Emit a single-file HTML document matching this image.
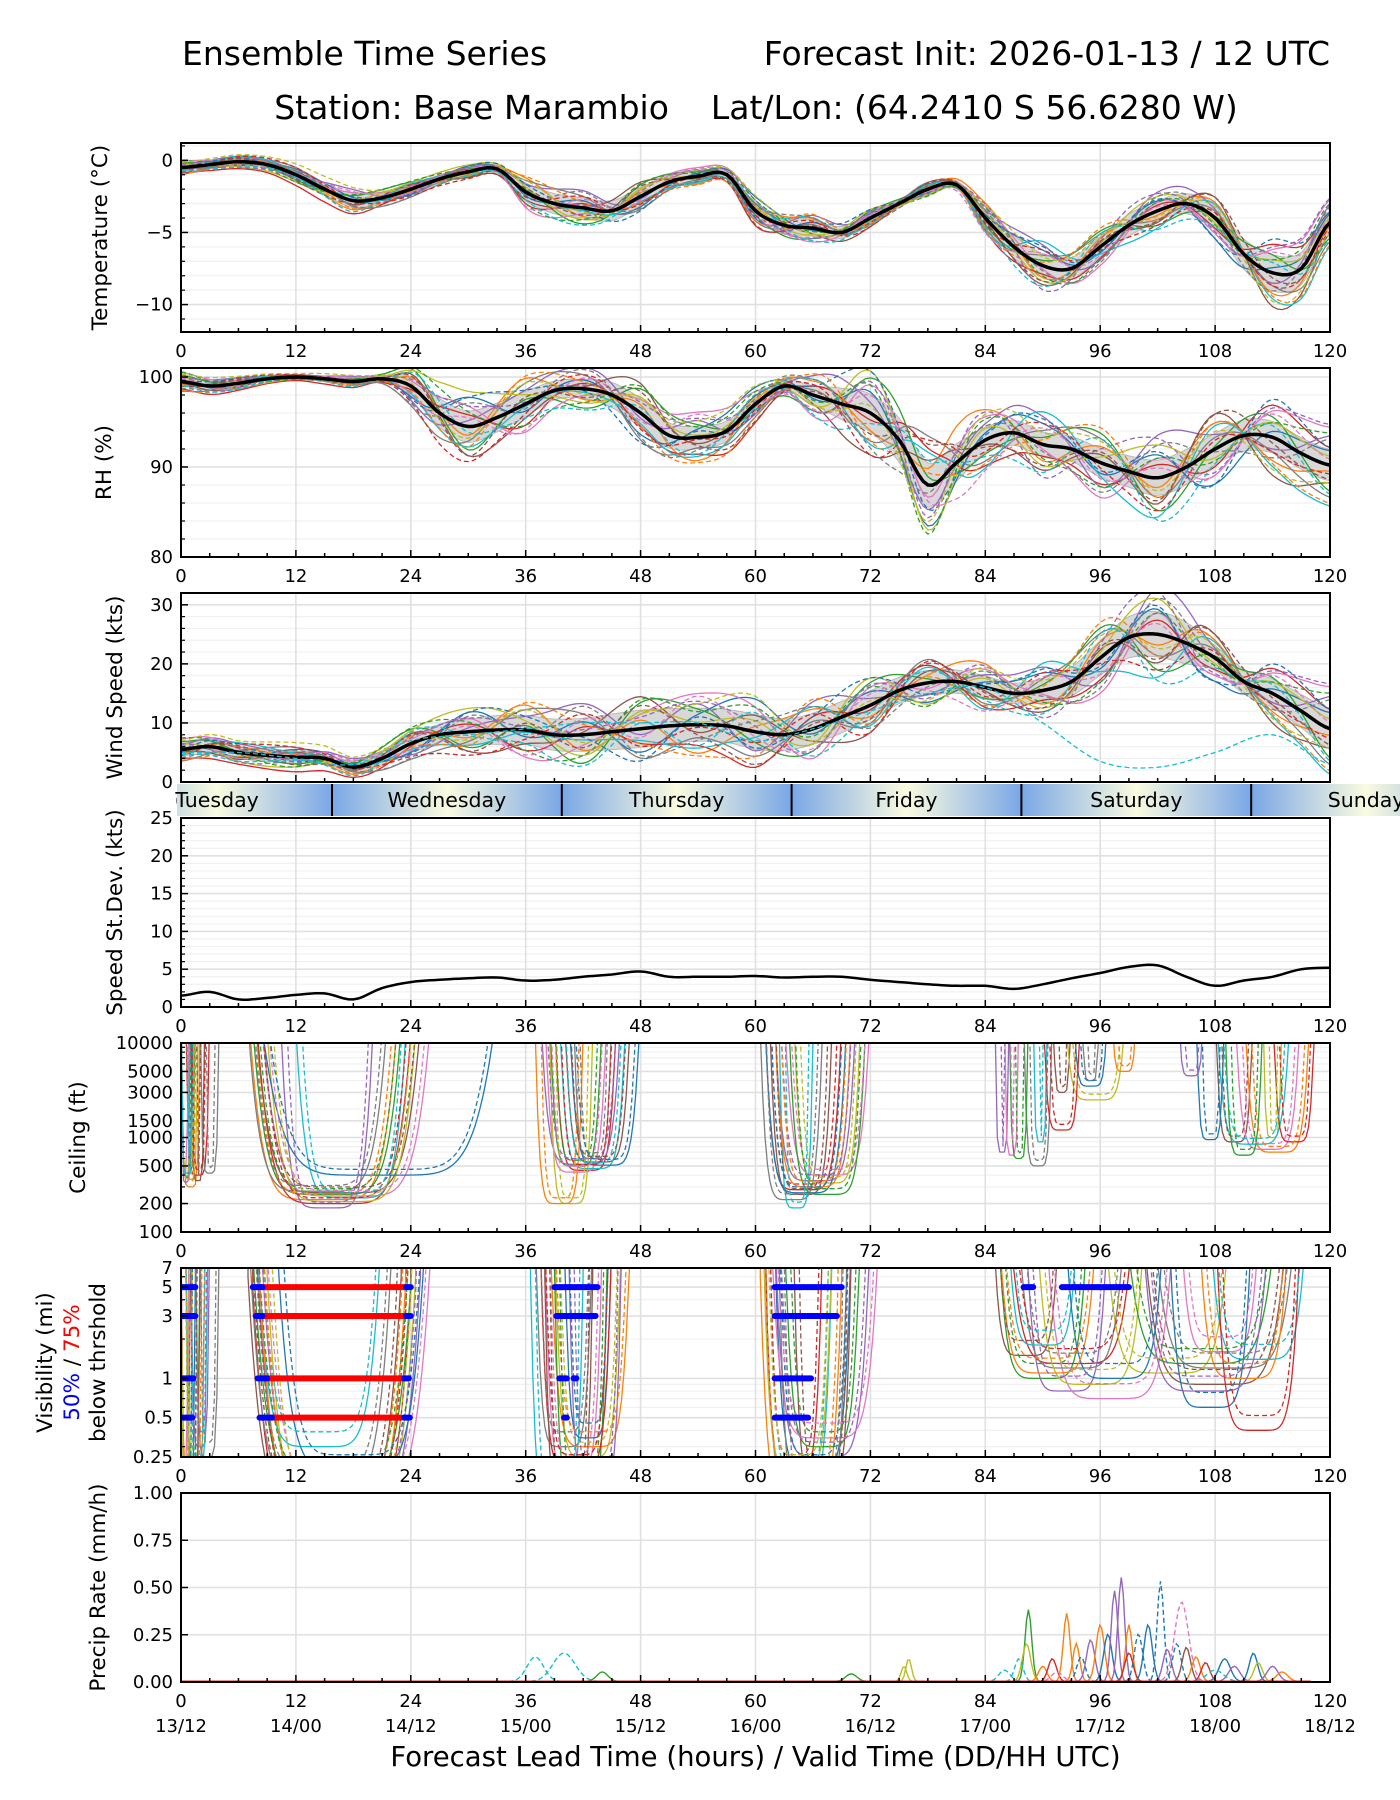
<!DOCTYPE html>
<html><head><meta charset="utf-8">
<style>
html,body{margin:0;padding:0;background:#fff;}
svg{display:block;font-family:"DejaVu Sans","Liberation Sans",sans-serif;}
</style></head>
<body>
<svg id="chart" width="1400" height="1800" viewBox="0 0 1400 1800" xmlns="http://www.w3.org/2000/svg">
<text x="182" y="65" font-size="33">Ensemble Time Series</text>
<text x="1330" y="65" font-size="33" text-anchor="end">Forecast Init: 2026-01-13 / 12 UTC</text>
<text x="756" y="119" font-size="33" text-anchor="middle">Station: Base Marambio &#160;&#160; Lat/Lon: (64.2410 S 56.6280 W)</text>
</svg>
<script>
// ---------- data ----------
const hours3 = [0,3,6,9,12,15,18,21,24,27,30,33,36,39,42,45,48,51,54,57,60,63,66,69,72,75,78,81,84,87,90,93,96,99,102,105,108,111,114,117,120];
const tempMean = [-0.5,-0.3,-0.1,-0.3,-1.0,-2.0,-2.8,-2.6,-2.0,-1.3,-0.8,-0.6,-2.2,-3.0,-3.3,-3.5,-2.5,-1.5,-1.1,-1.0,-3.5,-4.5,-4.7,-5.0,-4.0,-3.0,-2.0,-1.7,-4.0,-6.0,-7.3,-7.5,-6.0,-4.5,-3.5,-3.0,-4.0,-6.5,-7.8,-7.5,-4.3];
const tempSpread = [0.4,0.4,0.4,0.4,0.5,0.6,0.7,0.6,0.5,0.4,0.4,0.4,0.9,1.0,1.0,1.0,0.9,0.6,0.5,0.4,0.8,0.9,0.8,0.6,0.5,0.4,0.4,0.4,0.8,1.1,1.2,1.1,1.0,1.1,1.0,1.0,1.2,1.5,1.8,1.6,1.2];
const rhMean = [99.5,99,99.3,99.8,100,99.8,99.5,99.8,99,96,94.5,95.5,97,98.5,98.7,98,96,93.5,93.3,94,97,99,98,97,96,93,88,90.5,93,93.8,92.5,92,90.5,89.5,88.8,90,92,93.5,93.3,91.5,90.2];
const rhSpread = [0.7,0.7,0.5,0.3,0.2,0.3,0.4,0.4,1.5,2.3,2.5,2.3,2.0,1.5,1.5,2.0,2.3,2.0,1.8,1.6,1.2,1.0,1.5,2.5,3.0,3.5,3.5,3.0,2.0,2.0,2.0,2.0,2.3,2.5,2.8,2.8,2.5,2.5,2.5,2.5,2.5];
const windMean = [5.5,6,5,4.5,4.2,4,2.5,4,6.5,8,8.5,8.8,8.8,8,8,8.5,9,9.5,9.7,9.5,8.5,8,9,11,13,15.5,16.8,17,16,15,15.5,17,21,24.5,25,23.5,21,17,15,12,9];
const windSpread = [1.5,1.8,1.5,1.5,1.5,1.3,1.2,1.8,2.2,2.5,3.0,3.5,3.5,3.8,4,4.3,4.5,4.2,4,4,4.2,3.8,3.8,3.8,3.5,3.2,3,2.8,2.8,2.5,3,3.5,4.2,5,5.5,5,3,3,3.5,4,5];
const stdMean = [1.5,2,1,1.2,1.6,1.8,1,2.5,3.3,3.6,3.8,3.9,3.5,3.6,4.0,4.3,4.7,4.0,4.0,4.0,4.1,3.9,4.0,4.0,3.6,3.3,3.0,2.8,2.8,2.4,3.0,3.8,4.5,5.3,5.5,4.0,2.8,3.5,4.0,5.0,5.2];
const hours6 = [0,6,12,18,24,30,36,42,48,54,60,66,72,78,84,90,96,102,108,114,120];
const memberOffsets = [
 [0.2,-0.5,0.8,0.3,-0.6,1.0,-0.3,0.5,-0.8,0.4,1.2,-0.2,0.6,-1.0,0.3,0.9,-0.4,0.7,-1.2,0.2,0.5],
 [-0.4,0.6,-0.2,-0.9,0.5,-0.3,1.1,-0.6,0.3,-1.1,0.2,0.8,-0.5,0.4,1.3,-0.7,0.6,-0.3,0.9,-0.8,-0.2],
 [0.8,0.1,-0.7,0.5,1.0,-0.8,0.2,-1.1,0.9,0.6,-0.4,-0.9,1.0,0.2,-0.6,0.3,1.1,-1.0,0.1,0.7,-0.9],
 [-0.9,-1.2,-1.5,-1.3,-0.2,0.4,-0.9,0.3,-0.5,-0.8,-1.3,0.5,-0.2,0.9,-1.1,-0.5,-0.8,0.4,-0.6,1.1,0.6],
 [0.5,0.9,0.3,1.1,-0.8,0.2,0.6,1.2,-0.2,0.8,-0.7,1.1,0.3,-0.6,0.7,1.2,-0.9,1.3,0.5,-0.4,1.0],
 [-0.2,-0.7,0.5,-0.4,0.7,-1.0,-0.6,0.1,1.1,-0.3,0.6,-0.5,-1.2,0.6,-0.2,-1.1,0.3,-0.8,1.2,-1.3,-0.6],
 [1.1,0.4,-0.3,0.8,0.3,0.7,-1.2,-0.4,0.5,1.2,0.9,-1.2,0.8,-0.3,1.0,-0.2,-1.3,0.6,-0.9,0.9,1.3],
 [-1.2,0.2,1.0,-0.6,-1.1,-0.5,0.9,0.8,-1.0,-0.5,-0.9,0.3,-0.8,1.2,-0.9,0.6,0.9,-0.6,0.4,-0.5,-1.1],
 [0.6,-0.9,-1.0,0.1,0.9,1.2,0.4,-0.8,0.6,0.1,0.4,-0.6,1.2,-1.1,0.5,-0.9,0.2,1.0,-0.3,0.5,0.3],
 [-0.6,1.0,0.4,-0.1,-0.4,-0.7,-0.1,-0.2,-0.4,-0.9,-0.2,0.9,-0.9,0.8,-1.2,1.4,-0.5,-1.2,0.8,-1.0,-1.4]
];
const windOutlier = [5,5,4,3,7,8,9,10,10,10,7,9,12,15,16,10,3.5,2.5,5,8,3];
const ceilEpisodes = [
 [[0,1.2,380],[7.2,22.5,220],[38.5,44,500],[61,69,280],[85,86.5,700],[108,112,900]],
 [[0,2,300],[7.5,23,250],[39,45.5,450],[62,70.5,350],[91,93,3000],[110,117,750]],
 [[0,1.5,420],[8,24,200],[37.5,46,520],[61.5,68,250],[86,87.5,650],[94,96,4000]],
 [[0.5,3,400],[10.5,20,180],[40,47,550],[63,72,400],[88,91,500],[113,115,1000]],
 [[0,1,330],[7.8,25,260],[38,44.5,430],[60.5,67,220],[92,99,2500],[108,116,850]],
 [[1,2.5,350],[8.5,26,240],[41,45,600],[64,71,330],[89,90.5,900],[106,109,950]],
 [[0,0.8,450],[7,21.5,270],[38.5,43,200],[62.5,66,180],[93,97,3500],[111,118,700]],
 [[2,4,420],[9,24.5,210],[39.5,46.5,470],[61,69.5,260],[97,100,5000],[109,113,650]],
 [[0,1.8,360],[12,23.5,230],[40.5,48,510],[62,70,300],[86.5,88.5,600],[114,118.5,900]],
 [[0,1.3,390],[8.2,33,400],[37,42,200],[63.5,71.5,250],[90,94,1200],[104,107,4500]]
];
const visEpisodes = [
 [[0,1.5,0.1],[7.5,24,0.08],[38,44,0.2],[61,68,0.15],[85,95,1.0],[100,116,0.9]],
 [[0,2.5,0.12],[8,25,0.1],[37,43,0.3],[62,70,0.2],[86,100,1.3],[104,113,1.6]],
 [[0.5,2,0.2],[7,23,0.1],[39,46,0.25],[60.5,69,0.1],[88,97,0.8],[101,117,1.2]],
 [[0,1,0.15],[8.5,26,0.12],[36.5,42,0.1],[63,71,0.3],[84.5,92,1.5],[96,110,1.1]],
 [[1,3,0.3],[7.2,22,0.15],[40,45,0.35],[61,67,0.2],[90,104,0.7],[107,118,1.4]],
 [[0,2,0.1],[9,24.5,0.1],[38.5,47,0.3],[62,72,0.25],[87,99,1.2],[103,112,0.6]],
 [[0,0.8,0.2],[7.8,21,0.3],[39,44.5,0.12],[64,70,0.15],[89,101,0.9],[106,116,1.0]],
 [[1.5,4,0.25],[10,25.5,0.2],[37.5,45,0.2],[61.5,73,0.35],[86,94,1.8],[98,115,1.3]],
 [[0,1.2,0.1],[8.2,23.5,0.1],[40.5,46,0.15],[62.5,69.5,0.1],[92,103,1.0],[108,117,0.4]],
 [[0.5,2.8,0.18],[7.5,24.2,0.15],[38,43,0.1],[60.8,68,0.2],[85,96,1.1],[100,114,0.8]]
];
const visRedSegs = [[5,8.5,23.5],[3,8.5,23.5],[1,9,23.3],[0.5,9.5,23]];
const visBlueSegs = [[5,0,1.5],[3,0,1.5],[1,0,1.3],[0.5,0,1.2],[5,7.5,8.5],[3,7.8,8.5],[1,8,9],[0.5,8.2,9.5],[5,23.5,24],[3,23.5,24],[1,23.3,23.8],[0.5,23.3,23.9],[5,39,43.5],[3,39.2,43.3],[1,39.5,40.3],[1,41,41.3],[0.5,40,40.3],[5,62,69],[3,62,68.5],[1,62,65.8],[0.5,62,65.5],[5,88,89],[5,92,99]];
const precipPeaks = [[88.5,0.38,1.2,2],[88.3,0.2,1.5,8],[87.5,0.12,1.5,9],[90,0.08,1.5,1],[91,0.12,1.5,3],[92.5,0.36,1.2,1],[93.5,0.2,1.2,1],[94,0.13,1.5,0],[95,0.22,1.5,4],[96,0.3,1.5,1],[96.8,0.25,1.5,0],[97.5,0.48,1.2,4],[98.2,0.55,1.2,4],[99,0.3,1.2,1],[99,0.15,1.5,3],[100,0.25,1.5,0],[101,0.3,1.5,0],[102.3,0.53,1.2,0],[103,0.17,1.5,4],[104.5,0.42,2.5,6],[105,0.18,1.5,5],[104,0.2,1.5,0],[106,0.13,1.5,1],[107,0.1,1.5,3],[109,0.12,2,0],[110,0.08,2,4],[112,0.15,1.5,0],[112.5,0.1,1.5,8],[114,0.08,2,4],[115,0.05,2,1],[76,0.12,1,8],[75.5,0.08,1,8],[40,0.15,4,9],[37,0.13,3,9],[44,0.05,2,2],[70,0.04,2,2],[86,0.06,2,9],[91.5,0.05,2,6],[108,0.06,3,9]];
const dayNames = ["Tuesday","Wednesday","Thursday","Friday","Saturday","Sunday","Monday"];
const dayBoundaries = [-8.23,15.77,39.77,63.77,87.77,111.77,135.77];

// ---------- helpers ----------
const NS="http://www.w3.org/2000/svg";
const svg=document.getElementById('chart');
const L=181,R=1330,PH=189;
const tops=[143,368,593,818,1043,1268,1493];
const tab=['#1f77b4','#ff7f0e','#2ca02c','#d62728','#9467bd','#8c564b','#e377c2','#7f7f7f','#bcbd22','#17becf'];
const TICK_FS=18, LABEL_FS=21.5;
function mk(tag,attrs,parent){const e=document.createElementNS(NS,tag);for(const k in attrs)e.setAttribute(k,attrs[k]);(parent||svg).appendChild(e);return e;}
function xs(h){return L+(h/120)*(R-L);}
function interp(xsArr,ys,t){
  if(t<=xsArr[0])return ys[0];const n=xsArr.length;if(t>=xsArr[n-1])return ys[n-1];
  let i=0;while(xsArr[i+1]<t)i++;
  const p0=ys[Math.max(i-1,0)],p1=ys[i],p2=ys[i+1],p3=ys[Math.min(i+2,n-1)];
  const u=(t-xsArr[i])/(xsArr[i+1]-xsArr[i]);
  return 0.5*((2*p1)+(-p0+p2)*u+(2*p0-5*p1+4*p2-p3)*u*u+(-p0+3*p1-3*p2+p3)*u*u*u);
}
function linY(top,lo,hi){return v=>top+PH-(v-lo)/(hi-lo)*PH;}
function logY(top,lo,hi){return v=>top+PH-(Math.log(v)-Math.log(lo))/(Math.log(hi)-Math.log(lo))*PH;}
function pathFrom(pts){return pts.map((p,i)=>(i?'L':'M')+p[0].toFixed(1)+' '+p[1].toFixed(1)).join('');}

function makePanel(idx,name,yfn,yTicks,yLabels,minorVals){
  const top=tops[idx];
  const g=mk('g',{});
  
  
  const cp=mk('clipPath',{id:'clip'+idx},g);
  mk('rect',{x:L,y:top,width:R-L,height:PH},cp);
  minorVals.forEach(v=>{const y=yfn(v);const l=mk('line',{x1:L,x2:R,y1:y,y2:y,stroke:'#f0f0f0','stroke-width':1.2},g);
    
    });
  yTicks.forEach(v=>{const y=yfn(v);const l=mk('line',{x1:L,x2:R,y1:y,y2:y,stroke:'#e0e0e0','stroke-width':1.6},g);
    
    });
  for(let h=12;h<120;h+=12){const l=mk('line',{x1:xs(h),x2:xs(h),y1:top,y2:top+PH,stroke:'#e0e0e0','stroke-width':1.6},g);
    
    }
  const plot=mk('g',{'clip-path':'url(#clip'+idx+')'},g);
  
  
  const fr=mk('rect',{x:L,y:top,width:R-L,height:PH,fill:'none',stroke:'#000','stroke-width':2},g);
  
  
  for(let h=0;h<=120;h+=3){const len=(h%12===0)?7:4;
    const t=mk('line',{x1:xs(h),x2:xs(h),y1:top+PH,y2:top+PH-len,stroke:'#000','stroke-width':1.5},g);
    
    }
  for(let h=0;h<=120;h+=12){
    const t=mk('text',{x:xs(h),y:top+PH+25,'font-size':TICK_FS,'text-anchor':'middle'},g);t.textContent=String(h);
    
    
  }
  yTicks.forEach((v,i)=>{const y=yfn(v);
    const t=mk('line',{x1:L,x2:L+7,y1:y,y2:y,stroke:'#000','stroke-width':1.5},g);
    
    
    const tx=mk('text',{x:L-8,y:y+6,'font-size':TICK_FS,'text-anchor':'end'},g);tx.textContent=yLabels[i];
    
    });
  minorVals.forEach(v=>{const y=yfn(v);const t=mk('line',{x1:L,x2:L+4,y1:y,y2:y,stroke:'#000','stroke-width':1.2},g);
    
    });
  return plot;
}
function yLabel(x,top,text,name){
  const t=mk('text',{x:x,y:top+PH/2,'font-size':LABEL_FS,'text-anchor':'middle',transform:'rotate(-90 '+x+' '+(top+PH/2)+')'});
  t.textContent=text;
  
  
}
function ensemblePanel(plot,yfn,mean,spread,name,scaleMul){
  const up=[],dn=[];
  for(let t=0;t<=120;t+=0.5){const m=interp(hours3,mean,t),s=interp(hours3,spread,t)*0.7;up.push([xs(t),yfn(m+s)]);dn.push([xs(t),yfn(m-s)]);}
  const band=mk('path',{d:pathFrom(up.concat(dn.reverse()))+'Z',fill:'#d4d4d4',stroke:'#aaa','stroke-width':0.8,opacity:0.9},plot);
  
  
  for(let k=0;k<20;k++){
    const off=memberOffsets[k%10],o2=memberOffsets[(k+5)%10];
    const pts=[];
    for(let t=0;t<=120;t+=0.5){
      const m=interp(hours3,mean,t),s=interp(hours3,spread,t)*scaleMul;
      const o=k<10?interp(hours6,off,t):-interp(hours6,o2,t);
      pts.push([xs(t),yfn(m+s*o)]);
    }
    const p=mk('path',{d:pathFrom(pts),fill:'none',stroke:tab[k%10],'stroke-width':1.3},plot);
    if(k>=10)p.setAttribute('stroke-dasharray','5,3');
    
    
  }
  const mp=[];for(let t=0;t<=120;t+=0.5)mp.push([xs(t),yfn(interp(hours3,mean,t))]);
  const ml=mk('path',{d:pathFrom(mp),fill:'none',stroke:'#000','stroke-width':3.5},plot);
  
  
}
function range(a,b,s){const r=[];for(let v=a;v<=b+1e-9;v+=s)r.push(+v.toFixed(3));return r;}

// ---------- temperature ----------
{const y=linY(tops[0],-11.9,1.2);
 const p=makePanel(0,'temperature',y,[0,-5,-10],['0','\u22125','\u221210'],range(-11,1,1).filter(v=>v%5!==0));
 ensemblePanel(p,y,tempMean,tempSpread,'temperature',1.0);
 yLabel(107,tops[0],'Temperature (°C)','temperature-y-axis-title');}
// ---------- RH ----------
{const y=linY(tops[1],80,101);
 const p=makePanel(1,'rh',y,[80,90,100],['80','90','100'],range(82,98,2).filter(v=>v!==90));
 ensemblePanel(p,y,rhMean,rhSpread,'rh',1.3);
 yLabel(111,tops[1],'RH (%)','rh-y-axis-title');}
// ---------- wind ----------
{const y=linY(tops[2],0,32);
 const p=makePanel(2,'wind',y,[0,10,20,30],['0','10','20','30'],range(2,30,2).filter(v=>v%10!==0));
 ensemblePanel(p,y,windMean,windSpread,'wind',1.1);
 const pts=[];for(let t=0;t<=120;t+=0.5)pts.push([xs(t),y(interp(hours6,windOutlier,t))]);
 const o=mk('path',{d:pathFrom(pts),fill:'none',stroke:'#17becf','stroke-width':1.3,'stroke-dasharray':'5,3'},p);
 
 
 yLabel(122,tops[2],'Wind Speed (kts)','wind-y-axis-title');}
// ---------- day band ----------
{const bt=784,bh=32;
 const g=mk('g',{});
 
 
 const defs=mk('defs',{},g);
 const gr=mk('linearGradient',{id:'dayGrad',x1:0,x2:1,y1:0,y2:0},defs);
 mk('stop',{offset:'0','stop-color':'#7aa7e6'},gr);
 mk('stop',{offset:'0.5','stop-color':'#fafbe0'},gr);
 mk('stop',{offset:'1','stop-color':'#7aa7e6'},gr);
 const cp=mk('clipPath',{id:'bandclip'},g);mk('rect',{x:177,y:bt,width:1400-177,height:bh},cp);
 const bg=mk('g',{'clip-path':'url(#bandclip)'},g);
 for(let i=0;i<dayBoundaries.length-1;i++){
   const x0=xs(dayBoundaries[i]),x1=xs(dayBoundaries[i+1]);
   const r=mk('rect',{x:x0,y:bt,width:x1-x0,height:bh,fill:'url(#dayGrad)'},bg);
   
   
   if(i>0&&x0<1400){const l=mk('line',{x1:x0,x2:x0,y1:bt,y2:bt+bh,stroke:'#000','stroke-width':2},bg);
     
     }
 }
 for(let i=0;i<dayBoundaries.length-1;i++){
   const c=xs(dayBoundaries[i]+12);
   if(c<120||c>1480)continue;
   const t=mk('text',{x:c,y:bt+bh/2+7,'font-size':20.5,'text-anchor':'middle'},g);t.textContent=dayNames[i];
   
   
 }}
// ---------- std dev ----------
{const y=linY(tops[3],0,25);
 const p=makePanel(3,'stddev',y,[0,5,10,15,20,25],['0','5','10','15','20','25'],range(1,24,1).filter(v=>v%5!==0));
 const pts=[];for(let t=0;t<=120;t+=0.5)pts.push([xs(t),y(interp(hours3,stdMean,t))]);
 const l=mk('path',{d:pathFrom(pts),fill:'none',stroke:'#000','stroke-width':2.5},p);
 
 
 yLabel(122,tops[3],'Speed St.Dev. (kts)','stddev-y-axis-title');}
// ---------- ceiling ----------
{const y=logY(tops[4],100,10000);
 const p=makePanel(4,'ceiling',y,[100,200,500,1000,1500,3000,5000,10000],['100','200','500','1000','1500','3000','5000','10000'],[300,400,600,700,800,900,2000,4000,6000,7000,8000,9000]);
 for(let k=0;k<20;k++){
   const eps=ceilEpisodes[k%10];
   eps.forEach((ep,j)=>{
     const s=ep[0]+(k>=10?0.6:0),e=ep[1]+(k>=10?-0.4:0),low=ep[2]*(k>=10?1.15:1);
     const mid=(s+e)/2,half=(e-s)/2,pts=[[xs(s),y(20000)]];
     for(let t=s;t<=e+1e-6;t+=0.25){const u=(t-mid)/half;pts.push([xs(t),y(Math.min(20000,low*Math.pow(60,Math.pow(Math.abs(u),6))))]);}
     pts.push([xs(e),y(20000)]);
     const pl=mk('path',{d:pathFrom(pts),fill:'none',stroke:tab[(k+j)%10],'stroke-width':1.3},p);
     if(k>=10)pl.setAttribute('stroke-dasharray','5,3');
     
     
   });
 }
 yLabel(85,tops[4],'Ceiling (ft)','ceiling-y-axis-title');}
// ---------- visibility ----------
{const y=logY(tops[5],0.25,7);
 const p=makePanel(5,'visibility',y,[0.25,0.5,1,3,5,7],['0.25','0.5','1','3','5','7'],[2,4,6,0.3,0.4,0.6,0.7,0.8,0.9]);
 for(let k=0;k<20;k++){
   const eps=visEpisodes[k%10];
   eps.forEach((ep,j)=>{
     const s=ep[0]+(k>=10?0.5:0),e=ep[1]+(k>=10?-0.3:0),low=ep[2]*(k>=10?1.3:1);
     const mid=(s+e)/2,half=(e-s)/2,pts=[[xs(s),y(12)]];
     for(let t=s;t<=e+1e-6;t+=0.25){const u=(t-mid)/half;pts.push([xs(t),y(Math.max(0.1,Math.min(12,low*Math.pow(60,Math.pow(Math.abs(u),6)))))]);}
     pts.push([xs(e),y(12)]);
     const pl=mk('path',{d:pathFrom(pts),fill:'none',stroke:tab[(k+j*3)%10],'stroke-width':1.3},p);
     if(k>=10)pl.setAttribute('stroke-dasharray','5,3');
     
     
   });
 }
 visRedSegs.forEach(sg=>{const l=mk('line',{x1:xs(sg[1]),x2:xs(sg[2]),y1:y(sg[0]),y2:y(sg[0]),stroke:'#ff0000','stroke-width':6,'stroke-linecap':'round'},p);
   
   });
 visBlueSegs.forEach(sg=>{const l=mk('line',{x1:xs(sg[1]),x2:xs(sg[2]),y1:y(sg[0]),y2:y(sg[0]),stroke:'#0000ff','stroke-width':6,'stroke-linecap':'round'},p);
   
   });
 const mid=tops[5]+PH/2;
 const t1=mk('text',{x:52,y:mid,'font-size':LABEL_FS,'text-anchor':'middle',transform:'rotate(-90 52 '+mid+')'});t1.textContent='Visibility (mi)';
 
 
 const t2=mk('text',{x:79,y:mid,'font-size':LABEL_FS,'text-anchor':'middle',transform:'rotate(-90 79 '+mid+')'});
 
 
 const a=mk('tspan',{fill:'#0000ff'},t2);a.textContent='50%';
 const b=mk('tspan',{fill:'#000'},t2);b.textContent=' / ';
 const c=mk('tspan',{fill:'#ff0000'},t2);c.textContent='75%';
 const t3=mk('text',{x:105,y:mid,'font-size':LABEL_FS,'text-anchor':'middle',transform:'rotate(-90 105 '+mid+')'});t3.textContent='below thrshold';
 
 }
// ---------- precip ----------
{const y=linY(tops[6],0,1);
 const p=makePanel(6,'precip',y,[0,0.25,0.5,0.75,1],['0.00','0.25','0.50','0.75','1.00'],[]);
 precipPeaks.forEach((pk,i)=>{
   const [h,v,w,m]=pk;const pts=[];
   for(let t=h-w*1.5;t<=h+w*1.5;t+=0.2){const u=(t-h)/(w/2);pts.push([xs(t),y(0.003+v*Math.exp(-u*u*1.5))]);}
   const pl=mk('path',{d:pathFrom(pts),fill:'none',stroke:tab[m],'stroke-width':1.4},p);
   if(m===0&&i%2===1||m===6||m===9)pl.setAttribute('stroke-dasharray','5,3');
   
   
 });
 const base=mk('line',{x1:xs(0),x2:xs(118),y1:y(0.004),y2:y(0.004),stroke:'#d62728','stroke-width':1.5},p);
 
 
 yLabel(105,tops[6],'Precip Rate (mm/h)','precip-y-axis-title');
 const vt=['13/12','14/00','14/12','15/00','15/12','16/00','16/12','17/00','17/12','18/00','18/12'];
 vt.forEach((s,i)=>{const t=mk('text',{x:xs(i*12),y:tops[6]+PH+50,'font-size':TICK_FS,'text-anchor':'middle'});t.textContent=s;
   
   });
 const xl=mk('text',{x:(L+R)/2,y:1766,'font-size':27.5,'text-anchor':'middle'});xl.textContent='Forecast Lead Time (hours) / Valid Time (DD/HH UTC)';
 
 }
</script>
</body></html>
